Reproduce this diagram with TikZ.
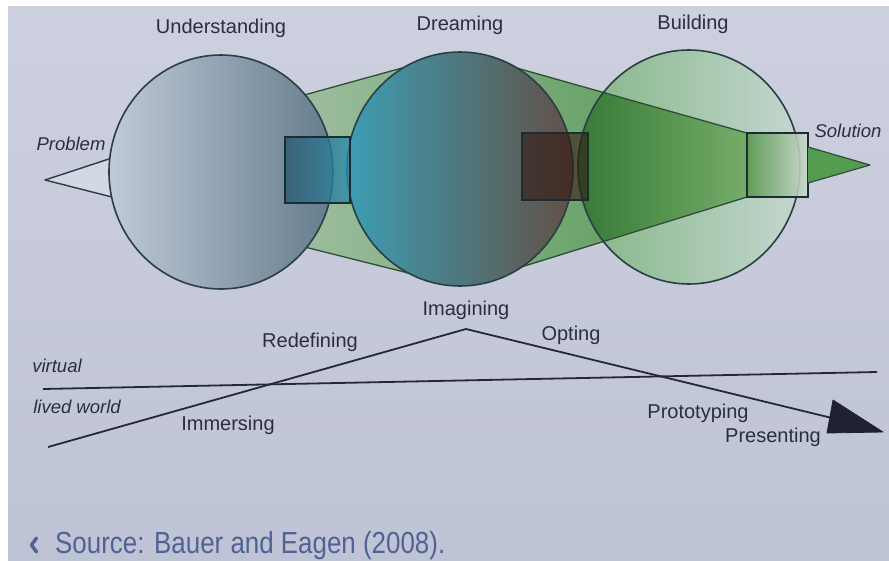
\documentclass[tikz,border=0pt]{standalone}
\usepackage{fontspec}
\setmainfont{Liberation Sans}
\newfontfamily\condfont[FakeStretch=0.85]{Liberation Sans}

% palette
\definecolor{bgtop}{RGB}{205,208,222}
\definecolor{bgbot}{RGB}{190,195,214}
\definecolor{inkgray}{RGB}{42,46,62}
\definecolor{ringedge}{RGB}{42,62,68}
\definecolor{coneedge}{RGB}{46,78,56}
\definecolor{boxedge}{RGB}{28,44,50}
\definecolor{pathink}{RGB}{36,40,58}
\definecolor{sourceblue}{RGB}{82,98,146}
\definecolor{undL}{RGB}{192,201,217}
\definecolor{undM}{RGB}{146,164,184}
\definecolor{undR}{RGB}{100,124,140}
\definecolor{drmL}{RGB}{60,158,180}
\definecolor{drmM}{RGB}{70,106,108}
\definecolor{drmR}{RGB}{98,80,70}
\definecolor{bldL}{RGB}{132,182,134}
\definecolor{bldR}{RGB}{196,214,208}
\definecolor{coneL}{RGB}{170,196,172}
\definecolor{coneR}{RGB}{82,150,80}
\definecolor{coneInL}{RGB}{50,120,50}
\definecolor{coneInR}{RGB}{118,172,106}
\definecolor{boxaL}{RGB}{42,88,110}
\definecolor{boxaR}{RGB}{45,142,172}
\definecolor{boxb}{RGB}{48,22,16}
\definecolor{boxcL}{RGB}{88,152,78}
\definecolor{boxcR}{RGB}{202,216,206}
\definecolor{solfill}{RGB}{85,155,80}
\definecolor{probfill}{RGB}{212,216,228}
\definecolor{arrowfill}{RGB}{30,34,52}

\begin{document}
\begin{tikzpicture}[x=1pt,y=-1pt,
  labeltext/.style={font=\fontsize{20}{24}\selectfont, text=inkgray, inner sep=0pt, anchor=base},
  sidetext/.style={font=\fontsize{18.5}{22}\selectfont\itshape, text=inkgray, inner sep=0pt, anchor=base},
  ringline/.style={draw=ringedge, line width=1.6pt},
  conelinestyle/.style={draw=coneedge, line width=1.3pt, line join=round},
  boxline/.style={draw=boxedge, line width=1.4pt},
  pathline/.style={draw=pathink, line width=1.8pt, line join=miter},
]
\useasboundingbox (0,0) rectangle (889,560);

% page
\fill[white] (0,0) rectangle (889,560);
\shade[top color=bgtop, bottom color=bgbot] (8,6) rectangle (889,560);

% key points of the process cone
\coordinate (coneUL) at (221,118);
\coordinate (dreamTop) at (460,52);
\coordinate (sqTL) at (747,133);
\coordinate (sqBL) at (747,197);
\coordinate (dreamBot) at (460,286);
\coordinate (coneLL) at (221,226);

% problem wedge
\coordinate (probTip) at (45,180);
\coordinate (probTop) at (112,158);
\coordinate (probBot) at (112,197);
\filldraw[fill=probfill, draw=ringedge, line width=1.4pt, line join=round]
  (probTop) -- (probTip) -- (probBot);

% green cone from understanding through dreaming to the solution
\path[left color=coneL, right color=coneR, conelinestyle]
  (coneUL) -- (dreamTop) -- (sqTL) -- (sqBL) -- (dreamBot) -- (coneLL) -- cycle;

% understanding
\path[left color=undL, middle color=undM, right color=undR, ringline]
  (221,172) ellipse [x radius=112pt, y radius=117pt];

% building
\shade[left color=bldL, right color=bldR]
  (689,167) ellipse [x radius=111pt, y radius=117pt];
\begin{scope}
  \clip (689,167) ellipse [x radius=111pt, y radius=117pt];
  \shade[left color=coneInL, right color=coneInR]
    (570,83) -- (sqTL) -- (sqBL) -- (570,252) -- cycle;
  \draw[conelinestyle] (dreamTop) -- (sqTL);
  \draw[conelinestyle] (dreamBot) -- (sqBL);
\end{scope}
\draw[ringline] (689,167) ellipse [x radius=111pt, y radius=117pt];

% dreaming
\path[left color=drmL, middle color=drmM, right color=drmR, ringline]
  (460,169) ellipse [x radius=113pt, y radius=117pt];

% the three stage boxes
\path[left color=boxaL, right color=boxaR, fill opacity=0.78, boxline]
  (285,137) rectangle (350,203);
\path[fill=boxb, fill opacity=0.58, boxline]
  (522,133) rectangle (588,200);
\path[left color=boxcL, right color=boxcR, fill opacity=0.9, boxline]
  (sqTL) rectangle (808,197);

% solution wedge
\filldraw[fill=solfill, draw=coneedge, line width=1.2pt, line join=round]
  (808,147) -- (870,165) -- (808,183);

% stage and end labels
\node[labeltext] (understanding) at (221,33) {Understanding};
\node[labeltext] (dreaming) at (460,30) {Dreaming};
\node[labeltext] (building) at (693,29) {Building};
\node[sidetext] (problem) at (71,150) {Problem};
\node[sidetext] (solution) at (848,137) {Solution};

% virtual / lived world line
\coordinate (worldL) at (43,389);
\coordinate (worldR) at (877,372);
\draw[pathline] (worldL) -- (worldR);

% the activity path
\coordinate (pathStart) at (48,447);
\coordinate (pathPeak) at (466,329);
\coordinate (pathEnd) at (832,418);
\draw[pathline] (pathStart) -- (pathPeak) -- (pathEnd);
\coordinate (tipTop) at (833,400);
\coordinate (tipRight) at (883,432);
\coordinate (tipLeft) at (827,433);
\filldraw[fill=arrowfill, draw=arrowfill, line width=0.8pt, line join=round]
  (tipTop) -- (tipRight) -- (tipLeft) -- cycle;

\node[sidetext] (virtual) at (57,372) {virtual};
\node[sidetext] (lived) at (77,413) {lived world};
\node[labeltext] (immersing) at (228,430) {Immersing};
\node[labeltext] (redefining) at (310,347) {Redefining};
\node[labeltext] (imagining) at (466,315) {Imagining};
\node[labeltext] (opting) at (571,340) {Opting};
\node[labeltext] (prototyping) at (698,418) {Prototyping};
\node[labeltext] (presenting) at (773,442) {Presenting};

% source line
\draw[sourceblue, line width=3.4pt, line cap=round, line join=round]
  (36.5,538) -- (31.5,545) -- (36.5,552);
\node[font=\condfont\fontsize{30.5}{34}\selectfont, text=sourceblue,
      inner sep=0pt, anchor=base west] (source) at (55,553)
  {Source: Bauer and Eagen (2008).};
\end{tikzpicture}
\end{document}
